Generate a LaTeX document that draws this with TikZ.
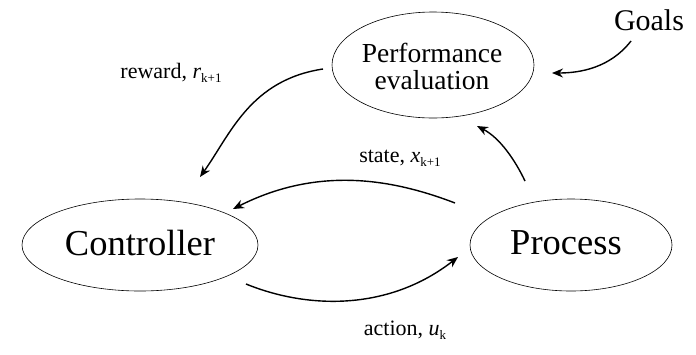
\documentclass[tikz,border=0pt]{standalone}
\usepackage{fontspec}
\setmainfont{Liberation Serif}
\usetikzlibrary{shapes.geometric,arrows.meta}
\newcommand{\sbs}[1]{\raisebox{-0.4ex}{\fontsize{13}{13}\selectfont #1}}
\begin{document}
\begin{tikzpicture}[x=1pt,y=-1pt,
  ell/.style={draw,ellipse,line width=0.6pt,inner sep=0pt},
  conn/.style={line width=1.4pt,-{Stealth[length=11pt,width=9pt]}},
  lbl/.style={font=\fontsize{22}{22}\selectfont}]
\useasboundingbox (0,0) rectangle (696,354);
\node[ell,minimum width=202pt,minimum height=106pt] (perf) at (433,65) {};
\node[align=center,font=\fontsize{27.5}{27}\selectfont] (perft) at (432,66) {Performance\\evaluation};
\node[ell,minimum width=236pt,minimum height=92pt] (ctrl) at (140,245) {};
\node[font=\fontsize{36.5}{38}\selectfont] (ctrlt) at (140,243) {Controller};
\node[ell,minimum width=202pt,minimum height=92pt] (proc) at (571,245) {};
\node[font=\fontsize{36.5}{38}\selectfont] (proct) at (566,243) {Process};
\node[font=\fontsize{30}{30}\selectfont] (goals) at (649,20) {Goals};
\node[lbl] (lrew) at (171,73) {reward, \textit{r}\sbs{k+1}};
\node[lbl] (lstate) at (400,158) {state, \textit{x}\sbs{k+1}};
\node[lbl] (lact) at (405,330) {action, \textit{u}\sbs{k}};
\coordinate (g0) at (631,41);
\coordinate (g1) at (552,73);
\coordinate (r0) at (323,69);
\coordinate (r1) at (200,177);
\coordinate (s0) at (525,181);
\coordinate (s1) at (477,126);
\coordinate (p0) at (455,203);
\coordinate (p1) at (233,209);
\coordinate (a0) at (246,284);
\coordinate (a1) at (458,257);
\draw[conn] (g0) .. controls (610,68) and (580,73) .. (g1);
\draw[conn] (r0) .. controls (250,80) and (230,135) .. (r1);
\draw[conn] (s0) .. controls (515,160) and (500,138) .. (s1);
\draw[conn] (p0) .. controls (395,180) and (320,165) .. (p1);
\draw[conn] (a0) .. controls (310,310) and (390,310) .. (a1);
\end{tikzpicture}
\end{document}
